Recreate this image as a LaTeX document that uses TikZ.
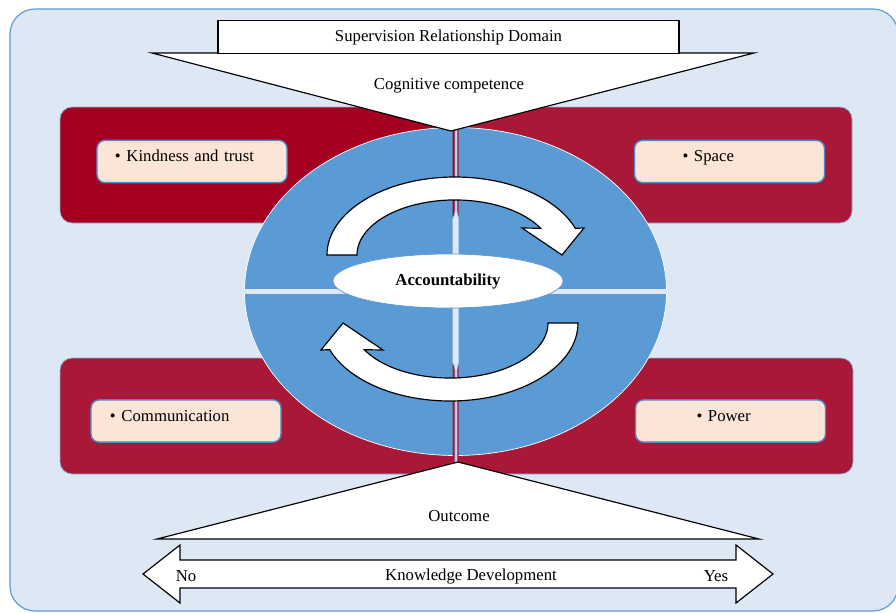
\documentclass[tikz,border=0pt]{standalone}
\usepackage{fontspec}
\setmainfont{Liberation Serif}
\usetikzlibrary{positioning,shapes.geometric}

\definecolor{paleblue}{HTML}{DDE8F4}
\definecolor{frameblue}{HTML}{5B9BD5}
\definecolor{pieblue}{HTML}{5B9BD5}
\definecolor{darkred}{HTML}{A50021}
\definecolor{wine}{HTML}{A91836}
\definecolor{peach}{HTML}{FBE5D6}
\definecolor{itemline}{HTML}{4F87C8}

% one turning arrow of the cycle, drawn twice
\newcommand{\turnarrow}{(327,255) arc[start angle=180, end angle=340, x radius=128, y radius=78]
  -- (584,228) -- (562,255) -- (522,228) -- (540.7,228.3)
  arc[start angle=331, end angle=180, x radius=98, y radius=55] -- cycle}

\begin{document}
\begin{tikzpicture}[
    x=0.03cm, y=-0.03cm,
    font=\fontsize{14.3}{17}\selectfont,
    frame/.style={fill=paleblue, draw=frameblue, line width=1pt, rounded corners=0.75cm},
    quad/.style={draw=frameblue!70, line width=0.6pt, rounded corners=0.36cm},
    pie/.style={fill=pieblue, draw=white, line width=0.6pt},
    item/.style={rectangle, fill=peach, draw=itemline, line width=1.2pt, rounded corners=0.24cm,
        align=left, inner ysep=0pt, text height=18pt, text depth=18pt},
    funnel/.style={fill=white, draw=black, line width=1pt, line join=miter},
    titlebox/.style={rectangle, fill=white, draw=black, line width=1.3pt,
        minimum width=13.83cm, minimum height=0.99cm},
    hub/.style={ellipse, fill=white, draw=frameblue, line width=0.6pt,
        minimum width=6.9cm, minimum height=1.62cm, font=\fontsize{14.3}{17}\selectfont\bfseries},
    turn/.style={fill=white, draw=black, line width=1pt, line join=miter}
]
\useasboundingbox (0,0) rectangle (896,612);

\draw[frame] (10,9) rectangle (898,611);

% the four red fields
\draw[quad, fill=darkred] (60,107) rectangle (455,223);
\draw[quad, fill=wine] (457,107) rectangle (852,223);
\draw[quad, fill=wine] (60,358) rectangle (455,474);
\draw[quad, fill=wine] (457,358) rectangle (853,474);

% quarters of the disc
\foreach \sx/\sy in {1/1, 1/-1, -1/1, -1/-1} {
  \begin{scope}
    \clip (455.5+3*\sx, 291.5+3*\sy) rectangle ++(230*\sx, 190*\sy);
    \filldraw[pie] (455.5,291.5) ellipse [x radius=211, y radius=164];
  \end{scope}
}

\node[item, text width=4.62cm, inner xsep=0.54cm] (kind) at (192,161.5) {\textbullet{} Kindness and trust};
\node[item, text width=2.82cm, inner xsep=1.44cm] (space) at (729.5,161.5) {\textbullet{} Space};
\node[item, text width=4.56cm, inner xsep=0.57cm] (comm) at (186,421) {\textbullet{} Communication};
\node[item, text width=2.04cm, inner xsep=1.83cm] (power) at (730.5,421) {\textbullet{} Power};

% the cycle
\draw[turn] \turnarrow;
\draw[turn, rotate around={180:(452.5,289)}] \turnarrow;

\node[hub] (hub) at (448,281) {Accountability};

% top funnel
\draw[funnel] (152,53) -- (754,53) -- (451,131) -- cycle;
\node[titlebox] (domain) at (448.5,37) {Supervision Relationship Domain};
\node (cognitive) at (449,86) {Cognitive competence};

% bottom funnel
\draw[funnel] (458,462) -- (759,539) -- (157,539) -- cycle;
\node (outcome) at (459,516) {Outcome};

% knowledge scale
\draw[funnel] (143,574) -- (180,545) -- (180,560) -- (736,560) -- (736,545) -- (773,574)
  -- (736,603) -- (736,588) -- (180,588) -- (180,603) -- cycle;
\node (no) at (186,576) {No};
\node (know) at (471,576) {Knowledge Development};
\node (yes) at (716,576) {Yes};

\end{tikzpicture}
\end{document}
